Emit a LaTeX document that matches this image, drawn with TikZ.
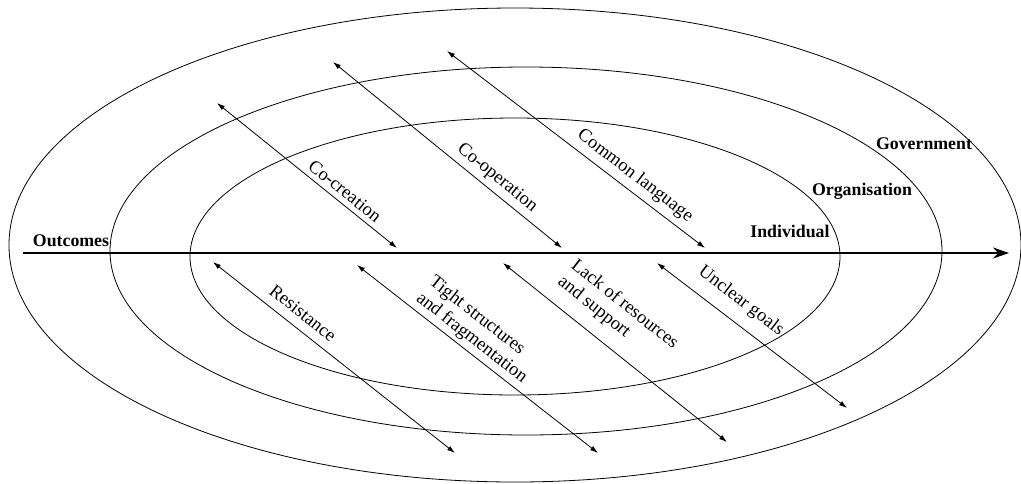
\documentclass[tikz,border=0pt]{standalone}
\usepackage{fontspec}
\setmainfont{Liberation Serif}
\usetikzlibrary{arrows.meta}
\tikzset{
  ring/.style={draw=black, line width=0.8pt},
  axis/.style={draw=black, line width=2.4pt, -{Stealth[length=16pt,width=11pt]}},
  force/.style={draw=black, line width=0.8pt, {Latex[length=8pt,width=5pt]}-{Latex[length=8pt,width=5pt]}},
  lev/.style={inner sep=0pt, font=\fontsize{17.8}{19}\selectfont\bfseries},
  lab/.style={inner sep=0pt, align=left, font=\fontsize{18.5}{21}\selectfont},
}
\begin{document}
\begin{tikzpicture}[x=1pt,y=-1pt]
\useasboundingbox (0,0) rectangle (1021,483);
% rings
\draw[ring] (515,245) ellipse [x radius=506pt, y radius=237pt];
\draw[ring] (526,251) ellipse [x radius=416pt, y radius=184pt];
\draw[ring] (515,256.5) ellipse [x radius=325pt, y radius=138.5pt];
% main axis
\coordinate (axs) at (23,253);
\coordinate (axe) at (1009,253);
\draw[axis] (axs) -- (axe);
% level labels
\node[lev] (out) at (71,241) {Outcomes};
\node[lev] (ind) at (790,231) {Individual};
\node[lev] (org) at (862,191) {Organisation};
\node[lev] (gov) at (924,144) {Government};
% upper forces
\coordinate (a1) at (217,103); \coordinate (b1) at (397,248);
\coordinate (a2) at (333,62);  \coordinate (b2) at (562,248);
\coordinate (a3) at (447,51);  \coordinate (b3) at (705,248);
\draw[force] (a1) -- (b1);
\draw[force] (a2) -- (b2);
\draw[force] (a3) -- (b3);
% lower forces
\coordinate (a4) at (213,262); \coordinate (b4) at (455,453);
\coordinate (a5) at (357,265); \coordinate (b5) at (598,453);
\coordinate (a6) at (503,263); \coordinate (b6) at (727,442);
\coordinate (a7) at (657,263); \coordinate (b7) at (847,408);
\draw[force] (a4) -- (b4);
\draw[force] (a5) -- (b5);
\draw[force] (a6) -- (b6);
\draw[force] (a7) -- (b7);
% force labels
\node[lab, rotate=-38.9] (l1) at (345,191) {Co-creation};
\node[lab, rotate=-39.1] (l2) at (497,178) {Co-operation};
\node[lab, rotate=-37.4] (l3) at (635,176) {Common language};
\node[lab, rotate=-38.3] (l4) at (303,313) {Resistance};
\node[lab, rotate=-38.0] (l5) at (478,330) {Tight structures\\and fragmentation};
\node[lab, rotate=-38.6] (l6) at (618,313) {Lack of resources\\and support};
\node[lab, rotate=-37.3] (l7) at (741,301) {Unclear goals};
\end{tikzpicture}
\end{document}
